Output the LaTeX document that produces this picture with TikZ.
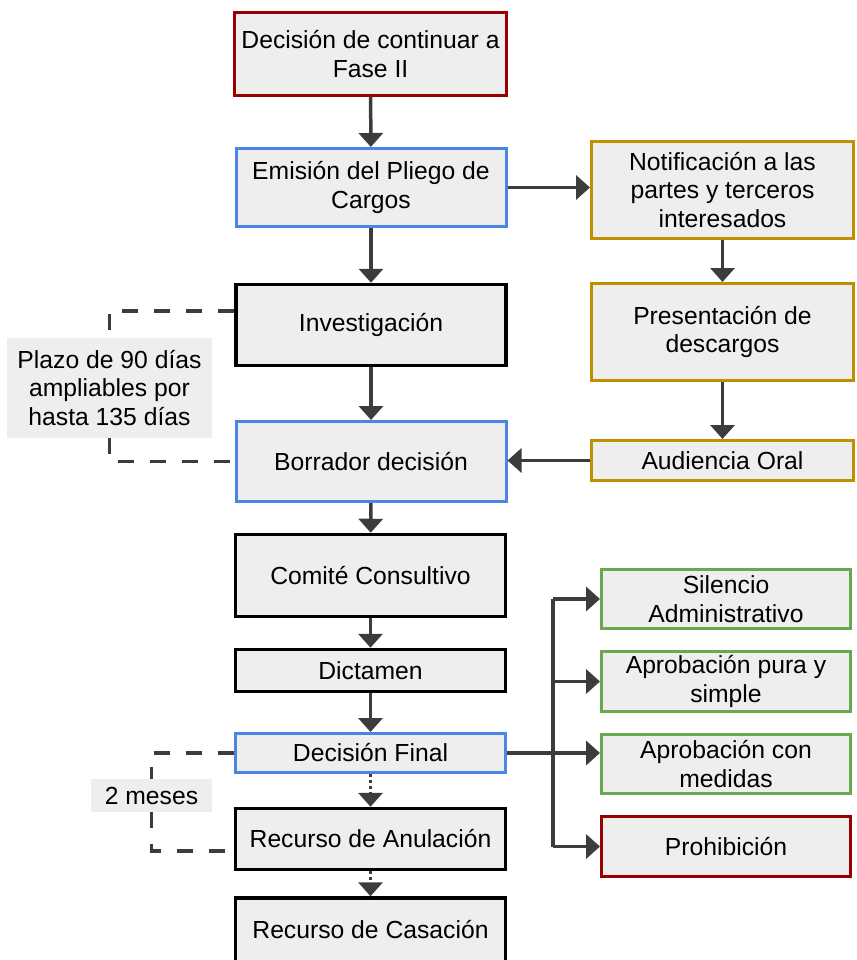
\documentclass[tikz,border=0pt]{standalone}
\usepackage{fontspec}
\setmainfont{Liberation Sans}
\usetikzlibrary{arrows.meta,calc}
\definecolor{boxfill}{HTML}{EEEEEE}
\definecolor{linkgray}{HTML}{3C3C3C}
\definecolor{redline}{HTML}{990000}
\definecolor{blueline}{HTML}{4A86E8}
\definecolor{goldline}{HTML}{BF9000}
\definecolor{greenline}{HTML}{6AA84F}
\begin{document}
\begin{tikzpicture}[x=1pt,y=-1pt,
  basebox/.style={draw, fill=boxfill, line width=3pt, inner sep=2pt, align=center,
    font=\fontsize{24.7}{28.4}\selectfont, text=black},
  redbox/.style={basebox, draw=redline},
  bluebox/.style={basebox, draw=blueline},
  blackbox/.style={basebox, draw=black, line width=3.5pt},
  goldbox/.style={basebox, draw=goldline},
  greenbox/.style={basebox, draw=greenline},
  notebox/.style={fill=boxfill, inner sep=2pt, align=center,
    font=\fontsize{24.7}{28.4}\selectfont, text=black},
  arr/.style={draw=linkgray, line width=3.5pt, -{Triangle[width=24pt,length=14pt]}},
  dotarr/.style={arr, dash pattern=on 3pt off 3pt},
  plainlink/.style={draw=linkgray, line width=3.5pt},
  dashlink/.style={draw=linkgray, line width=3.5pt, dash pattern=on 16pt off 16pt},
]
\useasboundingbox (0,0) rectangle (856,960);

% main column
\node[redbox,   minimum width=272, minimum height=83] (d1)  at (370.5,54)    {Decisión de continuar a\\Fase II};
\node[bluebox,  minimum width=270, minimum height=78] (emi) at (371,187.5)   {Emisión del Pliego de\\Cargos};
\node[blackbox, minimum width=270, minimum height=81] (inv) at (371,325)     {Investigación};
\node[bluebox,  minimum width=270, minimum height=80] (bor) at (371,461.5)   {Borrador decisión};
\node[blackbox, minimum width=270, minimum height=82] (com) at (370.5,575.5) {Comité Consultivo};
\node[blackbox, minimum width=270, minimum height=42] (dic) at (370.5,670.5) {Dictamen};
\node[bluebox,  minimum width=270, minimum height=39] (dfin) at (370.5,753) {Decisión Final};
\node[blackbox, minimum width=270, minimum height=61] (anu) at (370.5,839)  {Recurso de Anulación};
\node[blackbox, minimum width=270, minimum height=64] (cas) at (370.5,930)  {Recurso de Casación};

% right column
\node[goldbox, minimum width=262, minimum height=97] (not) at (722.5,190)  {Notificación a las\\partes y terceros\\interesados};
\node[goldbox, minimum width=262, minimum height=97] (pre) at (722.5,332)  {Presentación de\\descargos};
\node[goldbox, minimum width=262, minimum height=40] (aud) at (722.5,460.5) {Audiencia Oral};

% outcomes
\node[greenbox, minimum width=249, minimum height=59] (sil) at (726,599)   {Silencio\\Administrativo};
\node[greenbox, minimum width=249, minimum height=60] (apu) at (726,681.5) {Aprobación pura y\\simple};
\node[greenbox, minimum width=249, minimum height=59] (acm) at (726,764)   {Aprobación con\\medidas};
\node[redbox,   minimum width=249, minimum height=60] (pro) at (726,846.5) {Prohibición};

% time limits
\node[notebox, minimum width=205, minimum height=100] (plazo) at (109.5,388) {Plazo de 90 días\\ampliables por\\hasta 135 días};
\node[notebox, minimum width=121, minimum height=33] (meses) at (151.5,795.5) {2 meses};

% main flow
\draw[arr] (d1) -- (emi);
\draw[arr] (emi) -- (inv);
\draw[arr] (inv) -- (bor);
\draw[arr] (bor) -- (com);
\draw[arr] (com) -- (dic);
\draw[arr] (dic) -- (dfin);
\draw[dotarr] (dfin) -- (anu);
\draw[dotarr] (anu) -- (cas);

% side procedure
\draw[arr] (emi.east) -- (emi.east -| not.west);
\draw[arr] (not) -- (pre);
\draw[arr] (pre) -- (aud);
\draw[arr] (aud.west) -- (aud.west -| bor.east);

% outcome branches
\coordinate (fork) at (553,753);
\draw[plainlink] (dfin.east) -- (fork);
\draw[plainlink] (fork |- sil.west) -- (fork |- pro.west);
\draw[arr] (fork |- sil.west) -- (sil.west);
\draw[arr] (fork |- apu.west) -- (apu.west);
\draw[arr] (fork) -- (fork -| acm.west);
\draw[arr] (fork |- pro.west) -- (pro.west);

% duration brackets
\draw[dashlink] ([yshift=14pt]inv.west) -| (plazo.north);
\draw[dashlink] (plazo.south) |- (bor.west);
\draw[dashlink] (dfin.west) -| (meses.north);
\draw[dashlink] (meses.south) |- ([yshift=-12pt]anu.west);
\end{tikzpicture}
\end{document}
